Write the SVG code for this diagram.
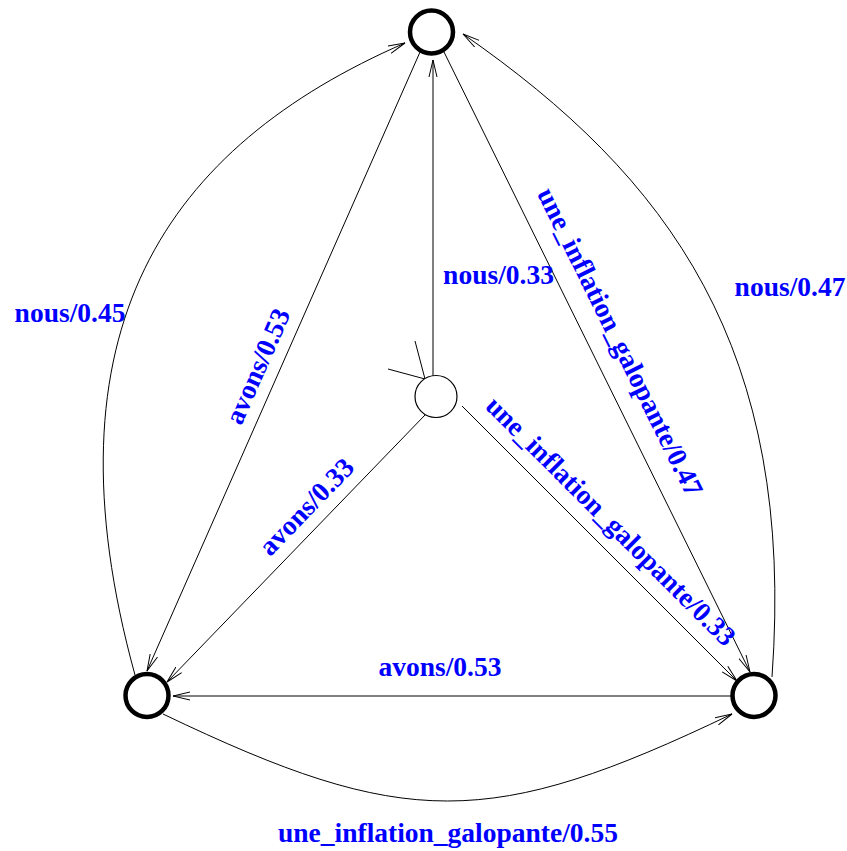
<svg xmlns="http://www.w3.org/2000/svg" width="847" height="851" viewBox="0 0 847 851">
<style>
.edge{fill:none;stroke:#000;stroke-width:1;marker-end:url(#arr)}
.plain{fill:none;stroke:#000;stroke-width:1}
.final{fill:#fff;stroke:#000;stroke-width:4.5}
.state{fill:#fff;stroke:#000;stroke-width:1.2}
.lbl{font-family:"Liberation Serif","Times New Roman",serif;font-weight:bold;font-size:27.5px;fill:#0000ff;text-anchor:middle}
</style>
<defs>
<marker id="arr" markerUnits="userSpaceOnUse" markerWidth="20" markerHeight="10" viewBox="0 0 20 10" refX="17" refY="5" orient="auto">
<path d="M0,1 L17,5 L0,9" fill="none" stroke="#000" stroke-width="1"/>
</marker>
</defs>
<rect width="847" height="851" fill="#fff"/>
<g id="connectors">
<polyline class="plain" points="388,369 425,379 415,341"/>
<path class="edge" d="M433,376 L433,60"/>
<path class="edge" d="M424,43 L147,671"/>
<path class="edge" d="M444,52 L750,672"/>
<path class="edge" d="M425,415 L167,682"/>
<path class="edge" d="M462,406 L737,681"/>
<path class="edge" d="M731,696 L173,696"/>
<path class="edge" d="M163,714 C405,830 490,830 732,714"/>
<path class="edge" d="M135,675 C40,330 166,147 405,43"/>
<path class="edge" d="M772,677 C796,348 669,177 463,34"/>
<text class="lbl" x="70" y="322">nous/0.45</text>
<text class="lbl" x="790" y="296">nous/0.47</text>
<text class="lbl" x="498.5" y="284">nous/0.33</text>
<text class="lbl" x="440" y="676">avons/0.53</text>
<text class="lbl" x="448" y="842">une_inflation_galopante/0.55</text>
<text class="lbl" transform="translate(266,370) rotate(-66.2)">avons/0.53</text>
<text class="lbl" transform="translate(313,513) rotate(-46)">avons/0.33</text>
<text class="lbl" transform="translate(612,346) rotate(63.7)">une_inflation_galopante/0.47</text>
<text class="lbl" transform="translate(604.4,527.6) rotate(45)">une_inflation_galopante/0.33</text>
</g>
<g id="n0"><circle class="state" cx="436" cy="396.5" r="21"/></g>
<g id="n1"><circle class="final" cx="431.5" cy="32" r="21.5"/></g>
<g id="n2"><circle class="final" cx="147" cy="695.5" r="21.5"/></g>
<g id="n3"><circle class="final" cx="754" cy="695.5" r="21.5"/></g>
</svg>
